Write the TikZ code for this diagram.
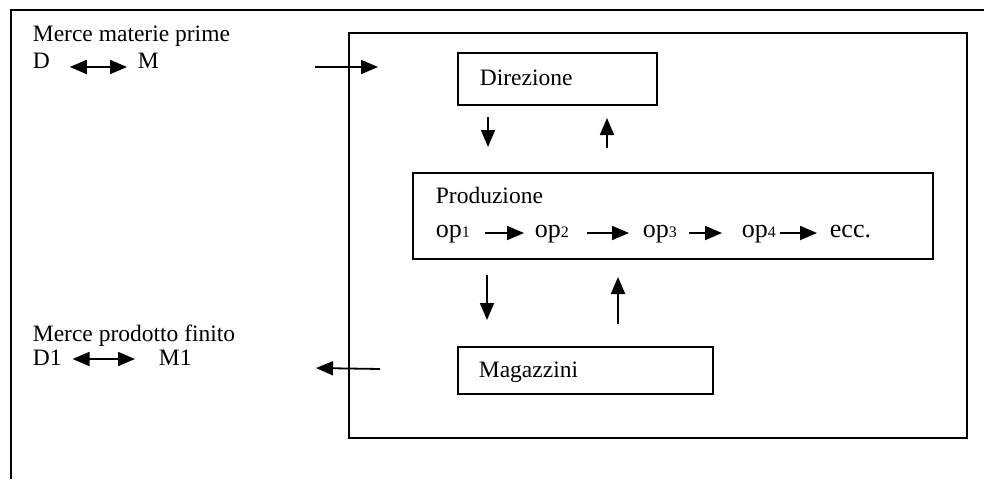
\documentclass[tikz,border=0pt]{standalone}
\usepackage{fontspec}
\setmainfont{Liberation Serif}
\usetikzlibrary{arrows.meta}
\newcommand{\opnum}[1]{{\fontsize{16}{16}\selectfont #1}}

\begin{document}
\begin{tikzpicture}[x=1pt,y=-1pt,line width=1.8pt,
  box/.style={draw,rectangle,inner sep=0pt},
  arr/.style={-{Triangle[length=17pt,width=14pt]}},
  dbl/.style={{Triangle[length=17pt,width=14pt]}-{Triangle[length=17pt,width=14pt]}},
  optext/.style={anchor=base west,font=\fontsize{26}{30}\selectfont}]
\tikzstyle{every node}+=[inner sep=0pt,font=\fontsize{23.5}{28}\selectfont]
\useasboundingbox (0,0) rectangle (984,479);
% frames
\draw [black] (984,10) -- (11,10) -- (11,479);
\node [box,minimum width=618pt,minimum height=405pt] (azienda) at (658,235.5) {};
\node [box,minimum width=199pt,minimum height=52pt] (dir) at (557.5,79) {};
\node [box,minimum width=520pt,minimum height=86pt] (prod) at (673,216) {};
\node [box,minimum width=255pt,minimum height=47pt] (mag) at (585.5,370.5) {};
% texts
\node [anchor=base west] (dirlab) at (479,85) {Direzione};
\node [anchor=base west] (prodlab) at (435,203) {Produzione};
\node [anchor=base west] (maglab) at (478,377) {Magazzini};
\node [anchor=base west] (mp) at (32,41) {Merce materie prime};
\node [anchor=base west] (d) at (32,68) {D};
\node [anchor=base west] (m) at (137,68) {M};
\node [anchor=base west] (pf) at (32,341) {Merce prodotto finito};
\node [anchor=base west] (d1) at (32,365) {D1};
\node [anchor=base west] (m1) at (158,365) {M1};
% operations
\node [optext] (op1) at (435,237) {op\opnum{1}};
\node [optext] (op2) at (534,237) {op\opnum{2}};
\node [optext] (op3) at (642,237) {op\opnum{3}};
\node [optext] (op4) at (741,237) {op\opnum{4}};
\node [optext] (ecc) at (829,237) {ecc.};
\draw [arr,shorten <=14pt,shorten >=10pt] ([yshift=4pt]op1.base east) -- ([yshift=4pt]op2.base west);
\draw [arr,shorten <=17pt,shorten >=13pt] ([yshift=4pt]op2.base east) -- ([yshift=4pt]op3.base west);
\draw [arr,shorten <=11pt,shorten >=19pt] ([yshift=4pt]op3.base east) -- ([yshift=4pt]op4.base west);
\draw [arr,shorten <=3pt,shorten >=12pt] ([yshift=4pt]op4.base east) -- ([yshift=4pt]ecc.base west);
% market arrows
\draw [dbl,shorten <=19pt,shorten >=10pt] ([yshift=1pt]d.base east) -- ([yshift=1pt]m.base west);
\draw [dbl,shorten <=10pt,shorten >=23pt] ([yshift=6pt]d1.base east) -- ([yshift=6pt]m1.base west);
\coordinate (in1) at (315,67);
\coordinate (in2) at (378,67);
\draw [arr] (in1) -- (in2);
\coordinate (out1) at (380,369);
\coordinate (out2) at (316,368);
\draw [arr] (out1) -- (out2);
% flows between units
\coordinate (dp1) at (488,117);
\coordinate (dp2) at (488,147);
\draw [arr] (dp1) -- (dp2);
\coordinate (pd1) at (607,148);
\coordinate (pd2) at (607,118);
\draw [arr] (pd1) -- (pd2);
\coordinate (pm1) at (487,275);
\coordinate (pm2) at (487,320);
\draw [arr] (pm1) -- (pm2);
\coordinate (mp1) at (618,324);
\coordinate (mp2) at (618,277);
\draw [arr] (mp1) -- (mp2);
\end{tikzpicture}
\end{document}
